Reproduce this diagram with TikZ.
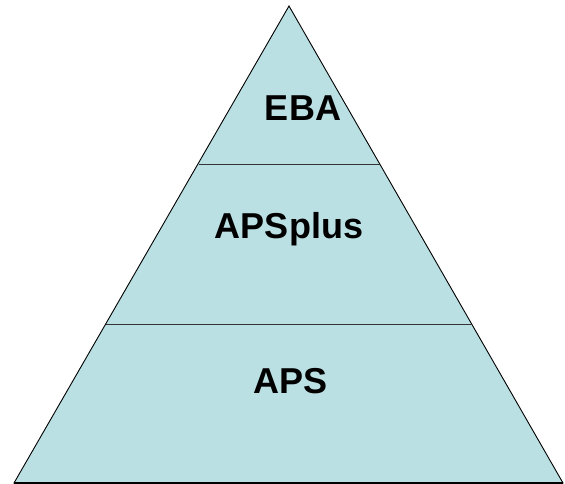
\documentclass[tikz,border=0pt]{standalone}
\usepackage{fontspec}
\setmainfont{Liberation Sans}
\begin{document}
\begin{tikzpicture}[x=1pt,y=-1pt,
  lbl/.style={font=\fontsize{36}{40}\selectfont\bfseries, inner sep=0pt, anchor=base},
  divider/.style={draw=black!80, line width=1.6pt}]
\definecolor{pyrfill}{RGB}{186,224,227}
\useasboundingbox (0,0) rectangle (565,484);
\coordinate (apex) at (289,6);
\coordinate (bl) at (14,483);
\coordinate (br) at (563,483);
\filldraw[fill=pyrfill, draw=black, line width=0.9pt, line join=miter] (apex) -- (br) -- (bl) -- cycle;
\coordinate (l1a) at (198.5,164.5);
\coordinate (l1b) at (380,164.5);
\coordinate (l2a) at (106,324.5);
\coordinate (l2b) at (472,324.5);
\draw[divider] (l1a) -- (l1b);
\draw[divider] (l2a) -- (l2b);
\draw[black, line width=1.4pt] (bl) -- (br);
\node[lbl] (eba) at (303,121) {EBA};
\node[lbl] (apsplus) at (289,238) {APSplus};
\node[lbl] (aps) at (291,393) {APS};
\end{tikzpicture}
\end{document}
